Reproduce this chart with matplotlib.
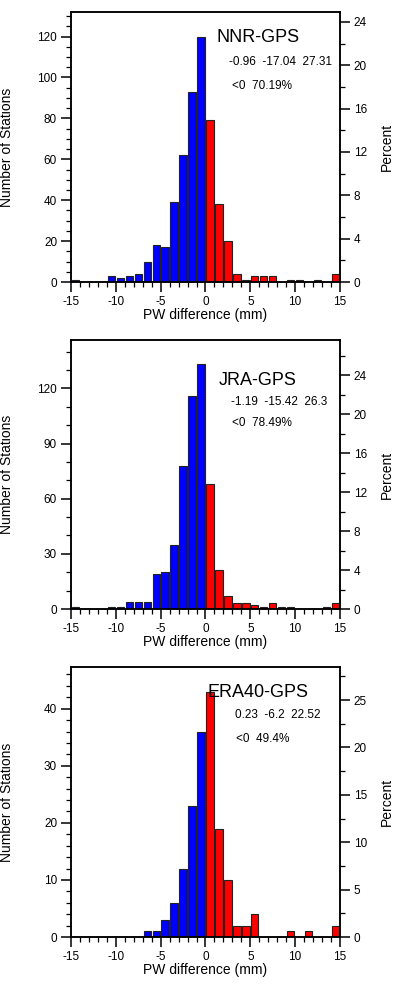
import numpy as np
import matplotlib
matplotlib.use("Agg")
import matplotlib.pyplot as plt
from matplotlib.ticker import MultipleLocator

plt.rcParams['font.family'] = ['Liberation Sans', 'DejaVu Sans']
plt.rcParams['axes.unicode_minus'] = False

# bin left edges: -15 .. 14 (width 1 mm)
bin_left = np.arange(-15, 15)

nnr_counts = [1, 0, 0, 0, 3, 2, 3, 4, 10, 18, 17, 39, 62, 93, 120,
              79, 38, 20, 4, 1, 3, 3, 3, 0, 1, 1, 0, 1, 0, 4]
jra_counts = [1, 0, 0, 0, 1, 1, 4, 4, 4, 19, 20, 35, 78, 116, 133,
              68, 21, 7, 3, 3, 2, 1, 3, 1, 1, 0, 0, 0, 1, 3]
era_counts = [0, 0, 0, 0, 0, 0, 0, 0, 1, 1, 3, 6, 12, 23, 36,
              43, 19, 10, 2, 2, 4, 0, 0, 0, 1, 0, 1, 0, 0, 2]

names = ["NNR-GPS", "JRA-GPS", "ERA40-GPS"]
stats = ["-0.96  -17.04  27.31", "-1.19  -15.42  26.3", "0.23  -6.2  22.52"]
neg_pct = ["<0  70.19%", "<0  78.49%", "<0  49.4%"]

all_counts = [nnr_counts, jra_counts, era_counts]
left_major = [20, 30, 10]
left_minor = [5, 10, 2]
right_major = [4, 4, 5]
right_minor = [2, 2, 2.5]
# text positions in axes fraction: (title, stats, <0)
text_pos = [
    [(0.54, 0.907), (0.589, 0.815), (0.60, 0.726)],
    [(0.548, 0.851), (0.593, 0.77), (0.60, 0.691)],
    [(0.507, 0.907), (0.611, 0.822), (0.615, 0.733)],
]

fig = plt.figure(figsize=(3.95, 9.9), dpi=100)
W, H = 395, 990
panels = [(12, 282), (340, 609), (667, 937)]

for i, counts in enumerate(all_counts):
    top, bot = panels[i]
    ax = fig.add_axes([71 / W, 1 - bot / H, 269 / W, (bot - top) / H])
    counts = np.array(counts)
    centers = bin_left + 0.5
    colors = ['#0000ff' if c < 0 else '#ff0000' for c in centers]
    ax.bar(centers, counts, width=0.82, color=colors, edgecolor='#222222', linewidth=0.8)
    ymax = counts.max() * 1.1
    ax.set_xlim(-15, 15)
    ax.set_ylim(0, ymax)
    ax.xaxis.set_major_locator(MultipleLocator(5))
    ax.xaxis.set_minor_locator(MultipleLocator(1))
    ax.yaxis.set_major_locator(MultipleLocator(left_major[i]))
    ax.yaxis.set_minor_locator(MultipleLocator(left_minor[i]))
    ax.tick_params(which='major', length=7, width=1.1, labelsize=8.5, direction='out', pad=3)
    ax.tick_params(which='minor', length=3.5, width=0.9, direction='out')
    ax.tick_params(axis='y', which='both', right=False)
    ax.tick_params(axis='x', which='both', top=False)
    for s in ax.spines.values():
        s.set_linewidth(1.1)
    ax.set_xlabel("PW difference (mm)", fontsize=10)
    ax.set_ylabel("Number of Stations", fontsize=10)
    ax.yaxis.set_label_coords(-0.211, 0.5)
    ax.xaxis.set_label_coords(0.5, -0.095)

    ax2 = ax.twinx()
    ax2.set_ylim(0, ymax * 100 / counts.sum())
    ax2.yaxis.set_major_locator(MultipleLocator(right_major[i]))
    ax2.yaxis.set_minor_locator(MultipleLocator(right_minor[i]))
    ax2.tick_params(which='major', length=7, width=1.1, labelsize=8.5, direction='out', pad=3)
    ax2.tick_params(which='minor', length=3.5, width=0.9, direction='out')
    ax2.set_ylabel("Percent", fontsize=10)
    ax2.yaxis.set_label_coords(1.148, 0.5)
    for s in ax2.spines.values():
        s.set_linewidth(1.1)

    (tx, ty), (sx, sy), (nx, ny) = text_pos[i]
    ax.text(tx, ty, names[i], transform=ax.transAxes, fontsize=13, va='center', ha='left')
    ax.text(sx, sy, stats[i], transform=ax.transAxes, fontsize=8.5, va='center', ha='left')
    ax.text(nx, ny, neg_pct[i], transform=ax.transAxes, fontsize=8.5, va='center', ha='left')

fig.savefig("out.png", dpi=100)
